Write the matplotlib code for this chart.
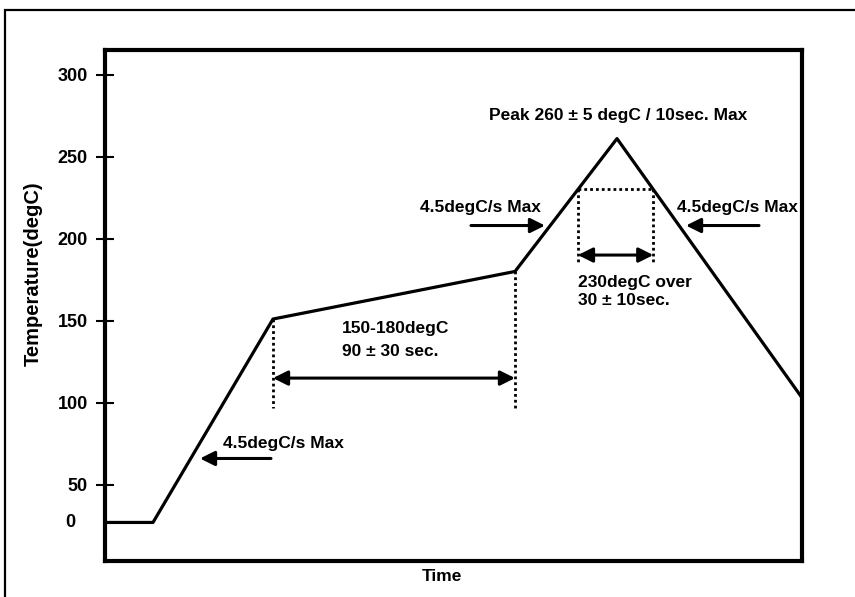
import numpy as np
import matplotlib
matplotlib.use("Agg")
import matplotlib.pyplot as plt
from matplotlib.patches import Rectangle

plt.rcParams['font.family'] = ['Liberation Sans', 'DejaVu Sans']
plt.rcParams['font.weight'] = 'bold'

# reflow profile (time in arbitrary units, no scale shown on the chart)
tiempo = [0, 48, 168, 410, 512, 697]
temperatura = [27, 27, 151, 180, 261, 103]

y_ticks = [50, 100, 150, 200, 250, 300]
soak_inicio, soak_fin = 168, 410
liquidus = 230

fig = plt.figure(figsize=(8.55, 5.97), dpi=100)
fig.patches.append(Rectangle((5 / 855, -0.1), 1.2, 1 - 10 / 597 + 0.1,
                             transform=fig.transFigure, fill=False,
                             lw=1.6, ec='black'))
ax = fig.add_axes([105 / 855, 1 - 561 / 597, 697 / 855, 511 / 597])

ax.plot(tiempo, temperatura, color='black', lw=2.3, zorder=3)
ax.set_xlim(0, 697)
ax.set_ylim(3.5, 315)

for s in ax.spines.values():
    s.set_linewidth(3)
    s.set_zorder(4)
ax.set_xticks([])
ax.set_yticks(y_ticks)
ax.tick_params(axis='y', direction='inout', length=13, width=1.5,
               labelsize=13, pad=6)
ax.text(-0.043, 27, "0", transform=ax.get_yaxis_transform(),
        ha='right', va='center', fontsize=13, fontweight='bold')
ax.set_ylabel("Temperature(degC)", fontsize=14.5, fontweight='bold')
ax.yaxis.set_label_coords(-0.09, 0.562)
ax.set_xlabel("Time", fontsize=12.5, fontweight='bold')
ax.xaxis.set_label_coords(0.484, -0.016)

# soak window
t_sube = np.array(tiempo[3:5])
t_baja = np.array(tiempo[4:6])
tal_ini = np.interp(liquidus, temperatura[3:5], t_sube)
tal_fin = np.interp(liquidus, temperatura[5:3:-1], t_baja[::-1])

dot = dict(color='black', lw=2, ls=(0, (1, 1.1)))
ax.plot([soak_inicio, soak_inicio], [151, 97], **dot)
ax.plot([soak_fin, soak_fin], [180, 97], **dot)
ax.plot([tal_ini, tal_fin], [liquidus, liquidus], **dot)
ax.plot([tal_ini, tal_ini], [liquidus, 185], **dot)
ax.plot([tal_fin, tal_fin], [liquidus, 185], **dot)

dbl = dict(arrowstyle='<|-|>', color='black', lw=2.2, mutation_scale=22,
           shrinkA=0, shrinkB=0)
ax.annotate("", xy=(soak_inicio, 115), xytext=(soak_fin, 115), arrowprops=dbl)
ax.annotate("", xy=(tal_ini, 190), xytext=(tal_fin, 190), arrowprops=dbl)

sgl = dict(arrowstyle='-|>', color='black', lw=2.2, mutation_scale=22,
           shrinkA=0, shrinkB=0)
ax.annotate("", xy=(95, 66), xytext=(166, 66), arrowprops=sgl)
ax.annotate("", xy=(440, 208), xytext=(366, 208), arrowprops=sgl)
ax.annotate("", xy=(581, 208), xytext=(654, 208), arrowprops=sgl)

fs = 12.5
ax.text(118, 75, "4.5degC/s Max", fontsize=fs, fontweight='bold', va='center')
ax.text(315, 219, "4.5degC/s Max", fontsize=fs, fontweight='bold', va='center')
ax.text(572, 219, "4.5degC/s Max", fontsize=fs, fontweight='bold', va='center',
        zorder=1)
ax.text(513, 275, "Peak 260 \u00b1 5 degC / 10sec. Max", fontsize=fs,
        fontweight='bold', ha='center', va='center')
ax.text(473, 173, "230degC over", fontsize=fs, fontweight='bold', va='center')
ax.text(473, 162, "30 \u00b1 10sec.", fontsize=fs, fontweight='bold', va='center')
ax.text(237, 145.5, "150-180degC", fontsize=fs, fontweight='bold', va='center')
ax.text(237, 131.5, "90 \u00b1 30 sec.", fontsize=fs, fontweight='bold', va='center')

fig.savefig("out.png", dpi=100)
